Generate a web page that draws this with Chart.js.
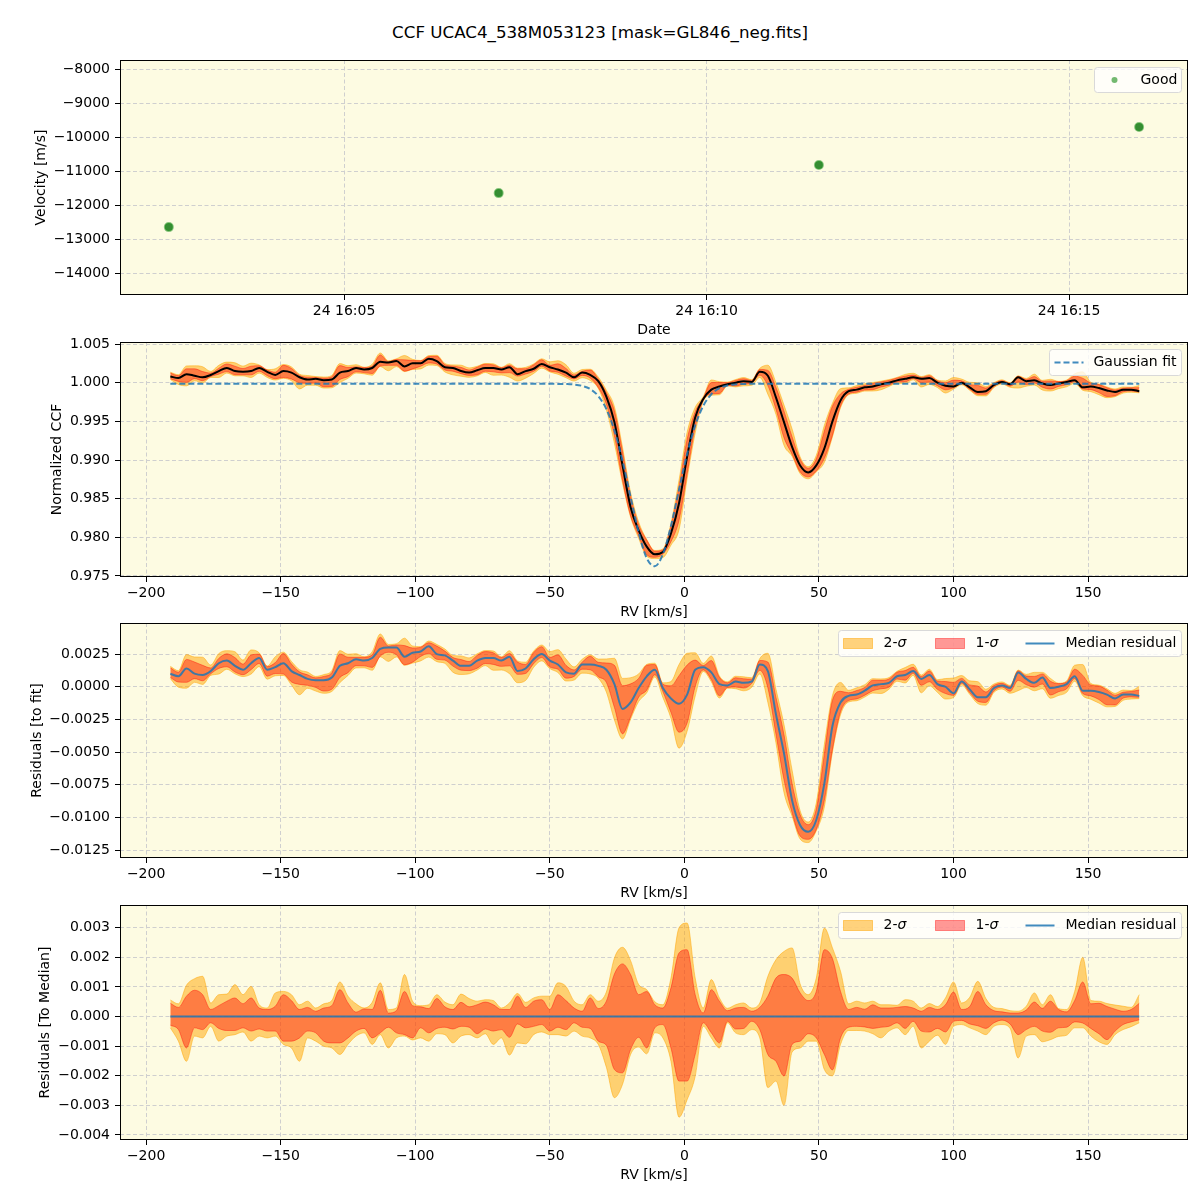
<!DOCTYPE html>
<html>
<head>
<meta charset="utf-8">
<script src="https://cdn.jsdelivr.net/npm/chart.js@4.4.1/dist/chart.umd.min.js"></script>
<style>
  body { margin: 0; background: #fff; width: 1200px; height: 1200px; position: relative; overflow: hidden; font-family: "DejaVu Sans", sans-serif; }
  #title { position: absolute; left: 0; top: 22px; width: 1200px; text-align: center; font-size: 16.7px; line-height: 20px; color: #000; }
  .panel { position: absolute; left: 0; width: 1200px; height: 290px; }
</style>
</head>
<body>
<div id="title">CCF UCAC4_538M053123 [mask=GL846_neg.fits]</div>
<div class="panel" style="top:50px"><canvas id="velChart"></canvas></div>
<div class="panel" style="top:332px"><canvas id="ccfChart"></canvas></div>
<div class="panel" style="top:613px"><canvas id="resChart"></canvas></div>
<div class="panel" style="top:895px"><canvas id="medChart"></canvas></div>
<script>
// --- observations (top panel) ---
const DAY = '24';
const OBS_TIME = ['16:02:35', '16:07:08', '16:11:33', '16:15:58'];
const OBS_VEL = [-12650, -11650, -10825, -9705];
const DATE_TICKS = ['16:05', '16:10', '16:15'];
const VEL_TICKS = [-14000, -13000, -12000, -11000, -10000, -9000, -8000];

// --- CCF grid (km/s) ---
const RV = [
  -191, -188, -185, -182, -179, -176, -173, -170, -167, -164, -161, -158, -155, -152,
  -149, -146, -143, -140, -137, -134, -131, -128, -125, -122, -119, -116, -113, -110,
  -107, -104, -101, -98, -95, -92, -89, -86, -83, -80, -77, -74, -71, -68,
  -65, -62, -59, -56, -53, -50, -47, -44, -41, -38, -35, -32,
  -29, -26, -23, -20, -17, -14, -11, -8, -5, -2,
  1, 4, 7, 10, 13, 16, 19, 22, 25, 28, 31, 34, 37, 40, 43, 46, 49, 52, 55, 58, 61, 64, 67, 70, 73, 76, 79,
  82, 85, 88, 91, 94, 97, 100, 103, 106, 109, 112, 115, 118, 121, 124, 127, 130, 133, 136, 139,
  142, 145, 148, 151, 154, 157, 160, 163, 166, 169
];

// median normalized CCF
const CCF_MED = [
  1.0008, 1.0006, 1.0011, 1.0009, 1.0007, 1.0010, 1.0015, 1.0019, 1.0015, 1.0014, 1.0015, 1.0019, 1.0014, 1.0010,
  1.0015, 1.0013, 1.0007, 1.0004, 1.0005, 1.0003, 1.0004, 1.0013, 1.0015, 1.0019, 1.0017, 1.0019, 1.0027, 1.0026,
  1.0028, 1.0021, 1.0025, 1.0025, 1.0031, 1.0028, 1.0020, 1.0019, 1.0015, 1.0013, 1.0016, 1.0019, 1.0019, 1.0017,
  1.0020, 1.0011, 1.0015, 1.0018, 1.0024, 1.0020, 1.0017, 1.0013, 1.0007, 1.0013, 1.0010, 1.0002,
  0.9982, 0.9949, 0.9893, 0.9839, 0.9809, 0.9788, 0.9778, 0.9781, 0.9805, 0.9844,
  0.9904, 0.9955, 0.9979, 0.9991, 0.9995, 0.9998, 1.0000, 1.0002, 1.0001, 1.0014, 1.0009, 0.9981, 0.9949, 0.9917,
  0.9893, 0.9884, 0.9893, 0.9915, 0.9950, 0.9977, 0.9989, 0.9991, 0.9994, 0.9995, 0.9998, 1.0000, 1.0003,
  1.0005, 1.0007, 1.0005, 1.0006, 1.0000, 0.9996, 0.9995, 1.0000, 0.9994, 0.9988, 0.9989, 0.9997, 1.0001, 0.9998,
  1.0007, 1.0002, 1.0003, 0.9999, 0.9997, 0.9999, 1.0001, 1.0003, 0.9994, 0.9995, 0.9993, 0.9990, 0.9988, 0.9991,
  0.9991, 0.9989
];

// gaussian fit
const FIT_RV = [-191, -50, -47, -44, -41, -38, -35, -32, -29, -26, -23, -20, -17, -14, -11, -8, -5, -2,
  1, 4, 7, 10, 13, 16, 19, 22, 25, 169];
const FIT = [0.99985, 0.99985, 0.99984, 0.99982, 0.99976, 0.99959, 0.99917, 0.99827, 0.99658, 0.99382,
  0.98990, 0.98522, 0.98063, 0.97731, 0.97626, 0.97782, 0.98148, 0.98618, 0.99077, 0.99446, 0.99700,
  0.99850, 0.99928, 0.99964, 0.99978, 0.99983, 0.99985, 0.99985];

// median residual to the fit
const RES_MED = [
  0.0010, 0.0008, 0.0014, 0.0010, 0.0009, 0.0012, 0.0018, 0.0020, 0.0016, 0.0013, 0.0018, 0.0022, 0.0013, 0.0015,
  0.0018, 0.0012, 0.0009, 0.0006, 0.0005, 0.0005, 0.0007, 0.0016, 0.0018, 0.0021, 0.0020, 0.0022, 0.0029, 0.0030,
  0.0030, 0.0023, 0.0026, 0.0027, 0.0031, 0.0025, 0.0024, 0.0020, 0.0016, 0.0016, 0.0020, 0.0022, 0.0022, 0.0020,
  0.0023, 0.0012, 0.0014, 0.0021, 0.0025, 0.0020, 0.0017, 0.0011, 0.0010, 0.0017, 0.0017, 0.0016,
  0.0013, 0.0002, -0.0017, -0.0012, -0.0001, 0.0008, 0.0013, -0.0001, -0.0009, -0.0013,
  -0.0006, 0.0013, 0.0015, 0.0011, 0.0002, 0.0001, 0.0004, 0.0003, 0.0004, 0.0017, 0.0012, -0.0021, -0.0051, -0.0087,
  -0.0106, -0.0111, -0.0102, -0.0074, -0.0030, -0.0012, -0.0007, -0.0006, -0.0003, 0.0001, 0.0002, 0.0003, 0.0008,
  0.0009, 0.0012, 0.0006, 0.0009, 0.0002, 0.0000, -0.0005, 0.0004, -0.0002, -0.0008, -0.0008, -0.0001, 0.0001, -0.0001,
  0.0011, 0.0006, 0.0003, 0.0007, -0.0001, 0.0000, 0.0002, 0.0008, -0.0003, -0.0003, -0.0004, -0.0006, -0.0009, -0.0006,
  -0.0006, -0.0007
];

// spread around the median (bottom panel): 1-sigma and 2-sigma limits
const UP1 = [
  0.00045, 0.00031, 0.00069, 0.00089, 0.00074, 0.00024, 0.00037, 0.00052, 0.00063, 0.00043, 0.00063, 0.00029, 0.00024, 0.00035,
  0.00074, 0.00054, 0.00024, 0.00031, 0.00018, 0.00029, 0.00037, 0.00091, 0.00046, 0.00015, 0.00026, 0.00024, 0.00089, 0.00012,
  0.00020, 0.00085, 0.00037, 0.00033, 0.00027, 0.00061, 0.00033, 0.00024, 0.00048, 0.00033, 0.00040, 0.00049, 0.00040, 0.00024,
  0.00024, 0.00069, 0.00031, 0.00052, 0.00057, 0.00024, 0.00074, 0.00054, 0.00029, 0.00018, 0.00063, 0.00027,
  0.00052, 0.00144, 0.00178, 0.00142, 0.00074, 0.00085, 0.00040, 0.00029, 0.00097, 0.00215,
  0.00226, 0.00074, 0.00012, 0.00091, 0.00052, 0.00020, 0.00029, 0.00031, 0.00018, 0.00031, 0.00069, 0.00130, 0.00142, 0.00130,
  0.00080, 0.00054, 0.00085, 0.00226, 0.00196, 0.00085, 0.00024, 0.00031, 0.00025, 0.00040, 0.00029, 0.00029, 0.00031,
  0.00034, 0.00029, 0.00018, 0.00031, 0.00024, 0.00040, 0.00083, 0.00024, 0.00034, 0.00085, 0.00040, 0.00020, 0.00016, 0.00012,
  0.00012, 0.00022, 0.00049, 0.00028, 0.00052, 0.00024, 0.00016, 0.00054, 0.00117, 0.00043, 0.00045, 0.00034, 0.00025, 0.00018,
  0.00024, 0.00045
];
const UP2 = [
  0.00056, 0.00043, 0.00106, 0.00128, 0.00136, 0.00046, 0.00074, 0.00076, 0.00108, 0.00074, 0.00102, 0.00040, 0.00029, 0.00080,
  0.00085, 0.00074, 0.00040, 0.00052, 0.00029, 0.00043, 0.00054, 0.00117, 0.00069, 0.00043, 0.00029, 0.00048, 0.00114, 0.00024,
  0.00029, 0.00142, 0.00052, 0.00037, 0.00040, 0.00074, 0.00049, 0.00040, 0.00076, 0.00061, 0.00052, 0.00057, 0.00054, 0.00029,
  0.00046, 0.00078, 0.00048, 0.00063, 0.00069, 0.00069, 0.00114, 0.00102, 0.00052, 0.00040, 0.00074, 0.00052,
  0.00083, 0.00198, 0.00234, 0.00189, 0.00108, 0.00091, 0.00050, 0.00040, 0.00130, 0.00300,
  0.00316, 0.00130, 0.00029, 0.00125, 0.00063, 0.00028, 0.00040, 0.00046, 0.00029, 0.00046, 0.00136, 0.00192, 0.00220, 0.00232,
  0.00110, 0.00074, 0.00130, 0.00299, 0.00232, 0.00153, 0.00043, 0.00052, 0.00046, 0.00052, 0.00040, 0.00040, 0.00038,
  0.00057, 0.00052, 0.00029, 0.00044, 0.00034, 0.00063, 0.00117, 0.00046, 0.00065, 0.00119, 0.00061, 0.00031, 0.00027, 0.00020,
  0.00018, 0.00035, 0.00080, 0.00040, 0.00074, 0.00027, 0.00024, 0.00085, 0.00200, 0.00054, 0.00052, 0.00044, 0.00039, 0.00035,
  0.00031, 0.00074
];
const LO1 = [
  -0.00029, -0.00044, -0.00106, -0.00038, -0.00044, -0.00021, -0.00040, -0.00047, -0.00047, -0.00038, -0.00049, -0.00042, -0.00049, -0.00049,
  -0.00083, -0.00083, -0.00072, -0.00049, -0.00055, -0.00083, -0.00089, -0.00089, -0.00072, -0.00049, -0.00040, -0.00072, -0.00055, -0.00036,
  -0.00055, -0.00061, -0.00072, -0.00038, -0.00055, -0.00040, -0.00036, -0.00042, -0.00033, -0.00036, -0.00058, -0.00042, -0.00049, -0.00044,
  -0.00070, -0.00025, -0.00038, -0.00033, -0.00027, -0.00049, -0.00036, -0.00044, -0.00021, -0.00036, -0.00040, -0.00083,
  -0.00097, -0.00179, -0.00190, -0.00111, -0.00070, -0.00106, -0.00038, -0.00027, -0.00106, -0.00218,
  -0.00218, -0.00128, -0.00021, -0.00055, -0.00089, -0.00016, -0.00042, -0.00040, -0.00016, -0.00044, -0.00128, -0.00151, -0.00201, -0.00094,
  -0.00083, -0.00058, -0.00072, -0.00128, -0.00180, -0.00072, -0.00036, -0.00033, -0.00035, -0.00040, -0.00036, -0.00033, -0.00021,
  -0.00040, -0.00016, -0.00049, -0.00052, -0.00040, -0.00052, -0.00016, -0.00013, -0.00025, -0.00031, -0.00040, -0.00021, -0.00012, -0.00025,
  -0.00061, -0.00044, -0.00033, -0.00049, -0.00053, -0.00038, -0.00036, -0.00018, -0.00022, -0.00040, -0.00058, -0.00078, -0.00049, -0.00027,
  -0.00018, -0.00011
];
const LO2 = [
  -0.00038, -0.00083, -0.00151, -0.00066, -0.00072, -0.00033, -0.00083, -0.00066, -0.00061, -0.00052, -0.00083, -0.00066, -0.00072, -0.00066,
  -0.00094, -0.00106, -0.00151, -0.00072, -0.00083, -0.00100, -0.00106, -0.00128, -0.00094, -0.00066, -0.00055, -0.00094, -0.00061, -0.00106,
  -0.00072, -0.00066, -0.00079, -0.00072, -0.00083, -0.00058, -0.00061, -0.00089, -0.00066, -0.00061, -0.00072, -0.00058, -0.00094, -0.00072,
  -0.00130, -0.00089, -0.00092, -0.00061, -0.00052, -0.00061, -0.00061, -0.00066, -0.00049, -0.00066, -0.00072, -0.00094,
  -0.00171, -0.00274, -0.00229, -0.00128, -0.00103, -0.00126, -0.00055, -0.00072, -0.00151, -0.00340,
  -0.00281, -0.00202, -0.00033, -0.00072, -0.00106, -0.00021, -0.00055, -0.00061, -0.00044, -0.00072, -0.00240, -0.00218, -0.00300, -0.00120,
  -0.00106, -0.00083, -0.00083, -0.00179, -0.00200, -0.00094, -0.00047, -0.00047, -0.00049, -0.00058, -0.00072, -0.00049, -0.00038,
  -0.00061, -0.00033, -0.00106, -0.00083, -0.00063, -0.00094, -0.00033, -0.00027, -0.00038, -0.00049, -0.00061, -0.00033, -0.00027, -0.00040,
  -0.00140, -0.00066, -0.00061, -0.00085, -0.00078, -0.00067, -0.00063, -0.00038, -0.00038, -0.00066, -0.00085, -0.00094, -0.00061, -0.00044,
  -0.00034, -0.00021
];

const RV_TICKS = [-200, -150, -100, -50, 0, 50, 100, 150];
const CCF_TICKS = [0.975, 0.980, 0.985, 0.990, 0.995, 1.000, 1.005];
const RES_TICKS = [-0.0125, -0.0100, -0.0075, -0.0050, -0.0025, 0.0000, 0.0025];
const MED_TICKS = [-0.004, -0.003, -0.002, -0.001, 0.000, 0.001, 0.002, 0.003];

// --- styling ---
Chart.defaults.font.family = 'DejaVu Sans';
Chart.defaults.font.size = 14;
Chart.defaults.color = '#000';

const FONT = { family: 'DejaVu Sans', size: 14 };
const AX_BG = '#fdfbe2';
const GRID = '#cfcfcf';
const C_2SIG = 'rgba(255,165,0,0.5)';
const C_1SIG = 'rgba(255,0,0,0.4)';
const C_MED = 'rgba(31,119,180,0.85)';

function minus(v, d) {
  const s = Math.abs(v).toFixed(d);
  return (v < -1e-12 ? '\u2212' : '') + s;
}
function toMin(s) {
  const p = s.split(':').map(Number);
  return (p[0] - 16) * 60 + p[1] + (p[2] || 0) / 60;
}
function pts(xs, ys) { return xs.map((x, i) => ({ x, y: ys[i] })); }
function around(base, off) { return RV.map((x, i) => ({ x, y: base[i] + off[i] })); }

function xAxis(min, max, ticks, title, fmt) {
  return {
    type: 'linear', min, max,
    afterBuildTicks: s => { s.ticks = ticks.map(v => ({ value: v })); },
    afterFit: s => { s.height = 45; s.paddingLeft = 0; s.paddingRight = 0; },
    ticks: { callback: fmt, padding: 3, maxRotation: 0, autoSkip: false, font: FONT, color: '#000' },
    grid: { color: GRID, lineWidth: 1, tickColor: '#000', tickLength: 5, tickBorderDash: [], tickWidth: 1 },
    border: { display: false, dash: [4, 2.5] },
    title: { display: true, text: title, font: FONT, color: '#000', padding: { top: 0, bottom: 1.6 } }
  };
}
function yAxis(min, max, ticks, title, digits, titlePad) {
  return {
    type: 'linear', min, max,
    afterBuildTicks: s => { s.ticks = ticks.map(v => ({ value: v })); },
    // fixed axis width; drop the label overhang padding so the plot box stays put
    afterFit: s => { s.width = 120; s.paddingTop = 0; s.paddingBottom = 0; },
    ticks: { callback: v => minus(v, digits), padding: 5, font: FONT, color: '#000' },
    grid: { color: GRID, lineWidth: 1, tickColor: '#000', tickLength: 5, tickBorderDash: [], tickWidth: 1 },
    border: { display: false, dash: [4, 2.5] },
    title: { display: true, text: title, font: FONT, color: '#000', padding: { top: titlePad, bottom: 0 } }
  };
}

// axes background + black frame
const frame = {
  id: 'frame',
  beforeDraw(chart) {
    const { ctx, chartArea: a } = chart;
    ctx.save();
    ctx.fillStyle = AX_BG;
    ctx.fillRect(a.left, a.top, a.right - a.left, a.bottom - a.top);
    ctx.restore();
  },
  afterDatasetsDraw(chart) {
    const { ctx, chartArea: a } = chart;
    ctx.save();
    ctx.strokeStyle = '#000';
    ctx.lineWidth = 1;
    ctx.strokeRect(a.left + 0.5, a.top + 0.5, a.right - a.left - 1, a.bottom - a.top - 1);
    ctx.restore();
  }
};

// matplotlib-like legend box in the upper right corner
const mplLegend = {
  id: 'mplLegend',
  afterDatasetsDraw(chart, args, opts) {
    if (!opts || !opts.items) return;
    const { ctx, chartArea: a } = chart;
    const x0 = Math.round(a.right - 7 - opts.width) + 0.5;
    const y0 = Math.round(a.top + 7) + 0.5;
    const h = opts.height, r = 3;
    ctx.save();
    ctx.beginPath();
    ctx.moveTo(x0 + r, y0);
    ctx.arcTo(x0 + opts.width, y0, x0 + opts.width, y0 + h, r);
    ctx.arcTo(x0 + opts.width, y0 + h, x0, y0 + h, r);
    ctx.arcTo(x0, y0 + h, x0, y0, r);
    ctx.arcTo(x0, y0, x0 + opts.width, y0, r);
    ctx.closePath();
    ctx.fillStyle = 'rgba(255,255,255,0.8)';
    ctx.fill();
    ctx.strokeStyle = '#d9d9d9';
    ctx.lineWidth = 1;
    ctx.stroke();
    const cy = y0 + h / 2;
    opts.items.forEach(it => {
      const hx = x0 + it.dx;
      if (it.kind === 'dot') {
        ctx.beginPath();
        ctx.arc(hx, cy, 3, 0, Math.PI * 2);
        ctx.fillStyle = 'rgba(0,128,0,0.55)';
        ctx.fill();
      } else if (it.kind === 'line') {
        ctx.beginPath();
        ctx.setLineDash(it.dash || []);
        ctx.moveTo(hx, cy);
        ctx.lineTo(hx + 29, cy);
        ctx.strokeStyle = it.color;
        ctx.lineWidth = 2;
        ctx.stroke();
        ctx.setLineDash([]);
      } else if (it.kind === 'patch') {
        ctx.fillStyle = it.color;
        ctx.fillRect(hx, cy - 5, 29, 10);
        ctx.strokeStyle = it.color;
        ctx.lineWidth = 1;
        ctx.strokeRect(hx, cy - 5, 29, 10);
      }
      ctx.fillStyle = '#000';
      ctx.textBaseline = 'middle';
      ctx.textAlign = 'left';
      ctx.font = '14px "DejaVu Sans"';
      ctx.fillText(it.label, x0 + it.tx, cy);
      if (it.italic) {
        const w = ctx.measureText(it.label).width;
        ctx.font = 'italic 14px "DejaVu Sans"';
        ctx.fillText(it.italic, x0 + it.tx + w, cy);
      }
    });
    ctx.restore();
  }
};

const sigmaLegend = {
  width: 343, height: 26,
  items: [
    { kind: 'patch', color: C_2SIG, dx: 5, tx: 45, label: '2-', italic: '\u03c3' },
    { kind: 'patch', color: C_1SIG, dx: 97, tx: 137, label: '1-', italic: '\u03c3' },
    { kind: 'line', color: C_MED, dx: 187, tx: 227, label: 'Median residual' }
  ]
};

function baseOptions(scales, legend) {
  return {
    responsive: true, maintainAspectRatio: false, animation: false, events: [],
    layout: { padding: { top: 10, right: 12, left: 0, bottom: 0 } },
    scales,
    plugins: { legend: { display: false }, tooltip: { enabled: false }, mplLegend: legend }
  };
}

function band(data, color, order, fill) {
  return {
    data, fill, order, backgroundColor: color, borderColor: color, borderWidth: 1,
    pointRadius: 0, cubicInterpolationMode: 'monotone'
  };
}

// --- panel 1: velocities vs time ---
new Chart(document.getElementById('velChart'), {
  type: 'scatter',
  data: {
    datasets: [{
      label: 'Good',
      data: OBS_TIME.map((t, i) => ({ x: toMin(t), y: OBS_VEL[i] })),
      backgroundColor: 'rgba(20,120,20,0.85)',
      borderColor: 'rgba(40,150,40,0.55)',
      borderWidth: 2,
      pointRadius: 4
    }]
  },
  options: baseOptions({
    x: xAxis(1.910, 16.641, DATE_TICKS.map(toMin), 'Date', v => {
      const h = 16 + Math.floor(v / 60), m = Math.round(v % 60);
      return DAY + ' ' + h + ':' + String(m).padStart(2, '0');
    }),
    y: yAxis(-14647, -7735, VEL_TICKS, 'Velocity [m/s]', 0, 32.6)
  }, { width: 87, height: 25, items: [{ kind: 'dot', dx: 20, tx: 46, label: 'Good' }] }),
  plugins: [frame, mplLegend]
});

// --- panel 2: CCF with gaussian fit ---
new Chart(document.getElementById('ccfChart'), {
  type: 'line',
  data: {
    datasets: [
      band(around(CCF_MED, UP2), C_2SIG, 3, '+1'),
      band(around(CCF_MED, LO2), C_2SIG, 3, false),
      band(around(CCF_MED, UP1), C_1SIG, 2, '+1'),
      band(around(CCF_MED, LO1), C_1SIG, 2, false),
      { data: pts(RV, CCF_MED), borderColor: '#000', borderWidth: 2, pointRadius: 0, fill: false, order: 1,
        cubicInterpolationMode: 'monotone' },
      { data: pts(FIT_RV, FIT), borderColor: 'rgba(31,119,180,0.85)', borderWidth: 2, borderDash: [6, 3],
        pointRadius: 0, fill: false, order: 0, cubicInterpolationMode: 'monotone' }
    ]
  },
  options: baseOptions({
    x: xAxis(-209.7, 187.1, RV_TICKS, 'RV [km/s]', v => minus(v, 0)),
    y: yAxis(0.97487, 1.00526, CCF_TICKS, 'Normalized CCF', 3, 48.6)
  }, { width: 132, height: 26,
       items: [{ kind: 'line', color: 'rgba(31,119,180,0.85)', dash: [6, 3], dx: 5, tx: 44, label: 'Gaussian fit' }] }),
  plugins: [frame, mplLegend]
});

// --- panel 3: residuals to the fit ---
new Chart(document.getElementById('resChart'), {
  type: 'line',
  data: {
    datasets: [
      band(around(RES_MED, UP2), C_2SIG, 3, '+1'),
      band(around(RES_MED, LO2), C_2SIG, 3, false),
      band(around(RES_MED, UP1), C_1SIG, 2, '+1'),
      band(around(RES_MED, LO1), C_1SIG, 2, false),
      { data: pts(RV, RES_MED), borderColor: C_MED, borderWidth: 2, pointRadius: 0, fill: false, order: 0,
        cubicInterpolationMode: 'monotone' }
    ]
  },
  options: baseOptions({
    x: xAxis(-209.7, 187.1, RV_TICKS, 'RV [km/s]', v => minus(v, 0)),
    y: yAxis(-0.01311, 0.00488, RES_TICKS, 'Residuals [to fit]', 4, 28.6)
  }, sigmaLegend),
  plugins: [frame, mplLegend]
});

// --- panel 4: residuals to the median ---
new Chart(document.getElementById('medChart'), {
  type: 'line',
  data: {
    datasets: [
      band(pts(RV, UP2), C_2SIG, 3, '+1'),
      band(pts(RV, LO2), C_2SIG, 3, false),
      band(pts(RV, UP1), C_1SIG, 2, '+1'),
      band(pts(RV, LO1), C_1SIG, 2, false),
      { data: [{ x: RV[0], y: 0 }, { x: RV[RV.length - 1], y: 0 }], borderColor: C_MED, borderWidth: 2,
        pointRadius: 0, fill: false, order: 0 }
    ]
  },
  options: baseOptions({
    x: xAxis(-209.7, 187.1, RV_TICKS, 'RV [km/s]', v => minus(v, 0)),
    y: yAxis(-0.00417, 0.00377, MED_TICKS, 'Residuals [To Median]', 3, 36.6)
  }, sigmaLegend),
  plugins: [frame, mplLegend]
});
</script>
</body>
</html>
